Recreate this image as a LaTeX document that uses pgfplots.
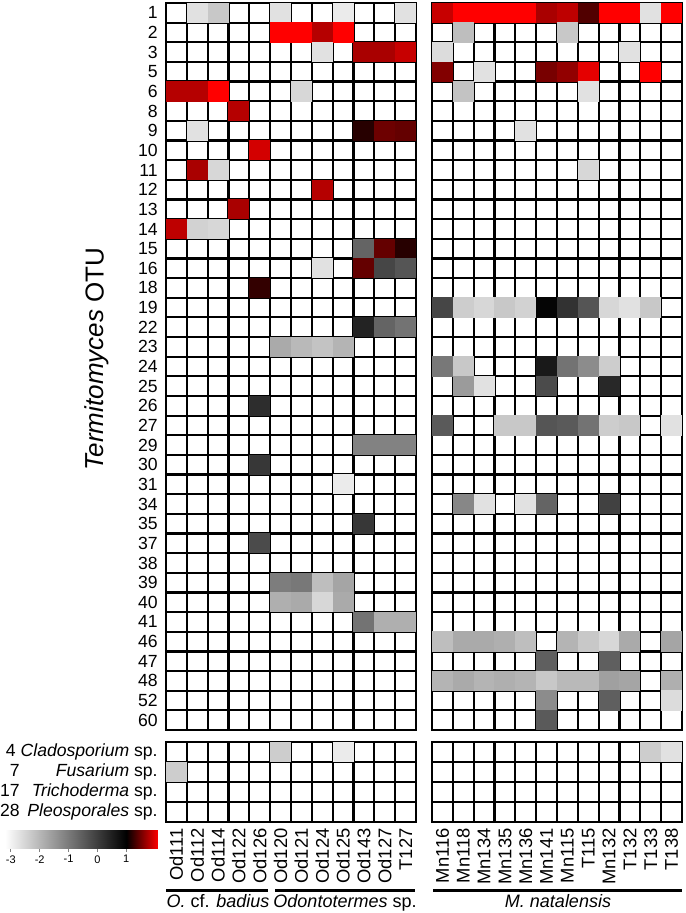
\documentclass[border=0pt]{standalone}
\usepackage{fontspec}
\setmainfont{Liberation Sans}
\usepackage{pgfplots}
\pgfplotsset{compat=1.18}

% one heatmap cell, a bit larger than the grid so the lines cover the edges
\pgfdeclareplotmark{cell}{%
  \pgfpathrectangle{\pgfpoint{-5.25pt}{-5.05pt}}{\pgfpoint{10.5pt}{10.1pt}}%
  \pgfusepathqfill}

\pgfplotsset{
  colormap={otu}{rgb255(0cm)=(255,255,255); rgb255(4.2cm)=(0,0,0); rgb255(5.3cm)=(255,0,0)},
  heat/.style={
    scale only axis, anchor=north west, width=125pt,
    xmin=-0.5, xmax=11.5, xtick={0,...,11},
    minor xtick={-0.5,0.5,...,11.5},
    y dir=reverse,
    major tick length=0pt, minor tick length=0pt,
    xminorgrids, yminorgrids,
    minor grid style={black, line width=1.1pt},
    axis line style={black, line width=1.3pt},
    axis on top,
    point meta min=-3.2, point meta max=2.1,
    tick label style={font=\fontsize{8.8}{10}\selectfont},
    yticklabel style={anchor=east, inner sep=0pt, xshift=-4pt},
  },
  cells/.style={scatter, only marks, mark=cell, scatter src=explicit,
    scatter/use mapped color={draw=mapped color, fill=mapped color}},
}

\newcommand{\fungus}[2]{\makebox[78pt][r]{\makebox[9pt][r]{#1}\hfill\textit{#2} sp.}}

\begin{document}
\begin{tikzpicture}
\useasboundingbox (0,0) rectangle (342.5pt,-456.5pt);

% ---- Termitomyces OTUs, Odontotermes nests
\begin{axis}[heat, at={(83pt,-1.5pt)}, height=363.5pt,
  ymin=-0.5, ymax=36.5, ytick={0,...,36}, minor ytick={-0.5,0.5,...,36.5},
  xticklabel={\relax},
  yticklabels={1,2,3,5,6,8,9,10,11,12,13,14,15,16,18,19,22,23,24,25,26,27,29,30,31,34,35,37,38,39,40,41,46,47,48,52,60},
  ylabel={\textit{Termitomyces} OTU},
  ylabel style={at={(rel axis cs:-0.276,0.51)}, anchor=center, font=\fontsize{13}{15}\selectfont}]
\addplot[cells] table[x=c, y=r, meta=v] {
c r v
1 0 -2.71
2 0 -2.29
5 0 -2.71
8 0 -2.87
11 0 -2.71
5 1 2.10
6 1 2.10
7 1 1.78
8 1 2.10
7 2 -2.71
9 2 1.73
10 2 1.73
11 2 1.86
0 4 1.78
1 4 1.78
2 4 2.10
6 4 -2.54
3 5 1.78
1 6 -2.71
9 6 1.17
10 6 1.47
11 6 1.43
4 7 1.91
1 8 1.73
2 8 -2.54
7 9 1.78
3 10 1.73
0 11 1.82
1 11 -2.46
2 11 -2.54
9 12 -0.65
10 12 1.43
11 12 1.17
7 13 -2.71
9 13 1.43
10 13 -0.15
11 13 -0.40
4 14 1.22
9 16 0.42
10 16 -0.65
11 16 -0.89
5 17 -1.80
6 17 -2.05
7 17 -2.21
8 17 -1.96
4 20 0.26
9 22 -1.14
10 22 -1.14
11 22 -1.14
4 23 0.09
8 24 -2.87
9 26 0.09
4 27 -0.24
5 29 -1.06
6 29 -0.98
7 29 -2.13
8 29 -1.72
5 30 -1.88
6 30 -1.80
7 30 -2.54
8 30 -1.80
9 31 -0.89
10 31 -1.88
11 31 -1.88
};
\end{axis}

% ---- Termitomyces OTUs, Macrotermes natalensis nests
\begin{axis}[heat, at={(216pt,-1.5pt)}, height=363.5pt,
  ymin=-0.5, ymax=36.5, ytick={0,...,36}, minor ytick={-0.5,0.5,...,36.5},
  xticklabel={\relax}, yticklabel={\relax}]
\addplot[cells] table[x=c, y=r, meta=v] {
c r v
0 0 1.86
1 0 2.10
2 0 2.10
3 0 2.10
4 0 2.10
5 0 1.73
6 0 1.82
7 0 1.35
8 0 2.10
9 0 2.10
10 0 -2.71
11 0 2.10
1 1 -2.13
6 1 -2.29
0 2 -2.62
9 2 -2.71
0 3 1.56
2 3 -2.71
5 3 1.52
6 3 1.63
7 3 1.99
10 3 2.10
1 4 -2.21
7 4 -2.71
4 6 -2.71
7 8 -2.54
0 15 -0.15
1 15 -2.38
2 15 -2.54
3 15 -2.29
4 15 -2.46
5 15 0.92
6 15 0.18
7 15 -0.40
8 15 -2.54
9 15 -2.71
10 15 -2.29
0 18 -0.98
1 18 -2.29
5 18 0.59
6 18 -0.89
7 18 -1.31
8 18 -2.38
1 19 -1.55
2 19 -2.71
5 19 -0.24
8 19 0.34
0 21 -0.48
3 21 -2.29
4 21 -2.29
5 21 -0.40
6 21 -0.48
7 21 -0.89
8 21 -2.38
9 21 -2.29
11 21 -2.71
1 25 -1.22
2 25 -2.71
4 25 -2.71
5 25 -0.65
8 25 -0.07
0 32 -2.13
1 32 -1.80
2 32 -1.80
3 32 -1.88
4 32 -2.13
6 32 -1.96
7 32 -2.29
8 32 -2.54
9 32 -1.80
11 32 -1.72
5 33 -0.56
8 33 -0.56
0 34 -1.96
1 34 -1.80
2 34 -1.96
3 34 -1.88
4 34 -1.96
5 34 -2.29
6 34 -2.05
7 34 -2.05
8 34 -1.64
9 34 -1.72
11 34 -1.88
5 35 -1.31
8 35 -0.56
11 35 -2.62
5 36 -0.48
};
\end{axis}

% ---- other fungi, Odontotermes nests
\begin{axis}[heat, at={(83pt,-371pt)}, height=40pt,
  ymin=-0.5, ymax=3.5, ytick={0,...,3}, minor ytick={-0.5,0.5,...,3.5},
  yticklabels={{\makebox[78pt][r]{4 \textit{Cladosporium} sp.}},{\fungus{7}{Fusarium}},{\fungus{17}{Trichoderma}},{\fungus{28}{Pleosporales}}},
  xticklabels={Od111,Od112,Od114,Od122,Od126,Od120,Od121,Od124,Od125,Od143,Od127,T127},
  xticklabel style={rotate=90, anchor=east, inner sep=3pt, font=\fontsize{9.2}{10}\selectfont}]
\addplot[cells] table[x=c, y=r, meta=v] {
c r v
5 0 -2.38
8 0 -2.87
0 1 -2.38
};
\end{axis}

% ---- other fungi, M. natalensis nests
\begin{axis}[heat, at={(216pt,-371pt)}, height=40pt,
  ymin=-0.5, ymax=3.5, ytick={0,...,3}, minor ytick={-0.5,0.5,...,3.5},
  yticklabel={\relax},
  xticklabels={Mn116,Mn118,Mn134,Mn135,Mn136,Mn141,Mn115,T115,Mn132,T132,T133,T138},
  xticklabel style={rotate=90, anchor=east, inner sep=3pt, font=\fontsize{9.2}{10}\selectfont}]
\addplot[cells] table[x=c, y=r, meta=v] {
c r v
10 0 -2.38
11 0 -2.71
};
\end{axis}

% ---- colour key
\begin{axis}[at={(2.5pt,-415pt)}, anchor=north west, scale only axis,
  width=76.5pt, height=9pt, enlargelimits=false,
  xmin=-3.2, xmax=2.1, ymin=0, ymax=1,
  axis y line=none, axis x line*=bottom,
  x axis line style={-, line width=0.3pt, gray},
  xtick={-3,-2,-1,0,1}, xticklabels={-3,-2,-1,0,1},
  tick align=outside, major tick length=2pt,
  tick style={line width=0.3pt, gray},
  xticklabel style={font=\fontsize{5.5}{6}\selectfont, inner sep=1.5pt},
  point meta min=-3.2, point meta max=2.1]
\addplot[surf, shader=interp, point meta=x, mesh/rows=2] coordinates {(-3.2,0) (2.1,0) (-3.2,1) (2.1,1)};
\end{axis}

% ---- host groups
\draw[line width=1.5pt] (83pt,-445pt) -- (134pt,-445pt);
\draw[line width=1.5pt] (137.5pt,-445pt) -- (207.5pt,-445pt);
\draw[line width=1.5pt] (216.5pt,-445pt) -- (341pt,-445pt);
\begin{scope}[every node/.style={anchor=base, inner sep=0pt, font=\fontsize{9}{10}\selectfont}]
\node at (109pt,-453.5pt) {\textit{O.} cf. \textit{badius}};
\node at (172.5pt,-453.5pt) {\textit{Odontotermes} sp.};
\node at (279pt,-453.5pt) {\textit{M. natalensis}};
\end{scope}
\end{tikzpicture}
\end{document}
